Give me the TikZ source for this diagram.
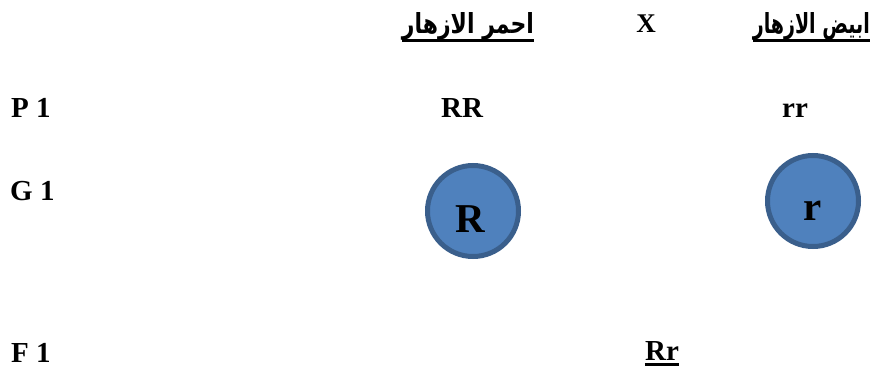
\documentclass[tikz,border=0pt]{standalone}
\usepackage{fontspec}
\setmainfont{Liberation Serif}
\newfontfamily\arabicfont[Script=Arabic]{DejaVu Sans}
\TeXXeTstate=1
\definecolor{ballfill}{HTML}{4F81BD}
\definecolor{ballrim}{HTML}{3A5F8C}
\begin{document}
\begin{tikzpicture}[x=1pt,y=-1pt,
  lbl/.style={inner sep=0pt, anchor=base west, font=\fontsize{29}{30}\selectfont\bfseries},
  mid/.style={inner sep=0pt, anchor=base, font=\fontsize{29}{30}\selectfont\bfseries},
  head/.style={inner sep=0pt, anchor=base, font=\arabicfont\bfseries},
  gamete/.style={circle, draw=ballrim, fill=ballfill, line width=5pt, minimum size=91pt, inner sep=0pt},
  gtext/.style={inner sep=0pt, anchor=base, font=\fontsize{41}{42}\selectfont\bfseries},
  uline/.style={line width=3pt}]
\useasboundingbox (0,0) rectangle (872,372);

% header: parents' phenotypes
\node[head] (red) at (468,33) {\resizebox{132pt}{21pt}{\beginR احمر الازهار\endR}};
\node[mid, font=\fontsize{27}{28}\selectfont\bfseries] (cross) at (646,32) {X};
\node[head, anchor=base east] (white) at (870,33) {\resizebox{117pt}{21pt}{\beginR ابيض الازهار\endR}};
\draw[uline] ([yshift=-7.5pt]red.base west) -- ([yshift=-7.5pt]red.base east);
\draw[uline] ([yshift=-7.5pt]white.base west) -- ([yshift=-7.5pt]white.base east);

% row labels
\node[lbl] (p1) at (11,117) {P 1};
\node[lbl] (g1) at (10,200) {G 1};
\node[lbl] (f1) at (11,362) {F 1};

% parental genotypes
\node[mid] (RR) at (462,117) {RR};
\node[mid] (rr) at (795,117) {rr};

% gametes
\node[gamete] (cR) at (473,211) {};
\node[gamete] (cr) at (813,201) {};
\node[gtext] (tR) at (470,232) {R};
\node[gtext] (tr) at (813,220) {r};

% offspring genotype
\node[mid] (Rr) at (662,360) {Rr};
\draw[uline] ([yshift=-4pt]Rr.base west) -- ([yshift=-4pt]Rr.base east);
\end{tikzpicture}
\end{document}
